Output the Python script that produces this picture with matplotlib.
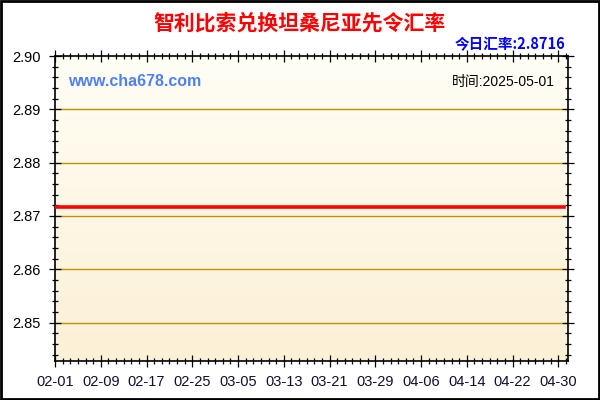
import numpy as np
import pandas as pd
import matplotlib
matplotlib.use("Agg")
import matplotlib.pyplot as plt
from matplotlib.ticker import MultipleLocator, FixedLocator
from matplotlib.patches import Rectangle

plt.rcParams['font.family'] = ['Liberation Sans', 'Noto Sans CJK SC', 'DejaVu Sans']

# data
dates = pd.date_range('2025-02-01', '2025-05-01', freq='D')
rates = [2.8716] * len(dates)
tick_labels = ['02-01', '02-09', '02-17', '02-25', '03-05', '03-13',
               '03-21', '03-29', '04-06', '04-14', '04-22', '04-30']
title = '智利比索兑换坦桑尼亚先令汇率'
today_rate = '今日汇率:2.8716'
time_text = '时间:2025-05-01'
site = 'www.cha678.com'

days = (dates - dates[0]).days.values

fig = plt.figure(figsize=(6, 4), dpi=100)
ax = fig.add_axes([55 / 600, 1 - 361 / 400, 513 / 600, 305 / 400])

# gradient background
grad = np.linspace(0, 1, 256).reshape(-1, 1)
top = np.array([255, 254, 245]) / 255
bot = np.array([252, 240, 214]) / 255
img = top + (bot - top) * grad[:, :, None] * np.ones((1, 1, 3))
ax.imshow(img, extent=[0, 1, 0, 1], transform=ax.transAxes, aspect='auto', zorder=0)

ax.set_xlim(0, 89.7)
ax.set_ylim(2.8428, 2.9)

for y in [2.85, 2.86, 2.87, 2.88, 2.89]:
    ax.axhline(y, color='#c09000', linewidth=1, zorder=1)

ax.plot(days, rates, color='#ff0000', linewidth=2.6, zorder=3)

ax.xaxis.set_major_locator(FixedLocator(np.arange(0, 89, 8)))
ax.xaxis.set_minor_locator(MultipleLocator(8 / 6))
ax.set_xticklabels(tick_labels)
ax.yaxis.set_major_locator(FixedLocator([2.85, 2.86, 2.87, 2.88, 2.89, 2.90]))
ax.yaxis.set_minor_locator(MultipleLocator(0.002))
ax.set_yticklabels(['2.85', '2.86', '2.87', '2.88', '2.89', '2.90'])

ax.tick_params(which='both', direction='inout', top=True, right=True,
               labelsize=10.5, width=0.9, color='black')
ax.tick_params(which='major', length=8, pad=6)
ax.tick_params(which='minor', length=5)
ax.tick_params(axis='x', labelcolor='#101030')
for s in ax.spines.values():
    s.set_linewidth(1.2)

ax.text(0.025, 0.915, site, transform=ax.transAxes, color='#5080f0',
        fontsize=11.5, fontweight='bold', ha='left', va='center', zorder=4)
ax.text(0.975, 0.915, time_text, transform=ax.transAxes, color='black',
        fontsize=10, ha='right', va='center', zorder=4)

fig.text(0.5, 0.942, title, color='#ff0000', fontsize=15, fontweight='bold',
         ha='center', va='center', family=['Noto Sans CJK SC', 'DejaVu Sans'])
fig.text(565 / 600, 1 - 44 / 400, today_rate, color='#0000ff', fontsize=10.5,
         fontweight='bold', ha='right', va='center',
         family=['Noto Sans CJK SC', 'DejaVu Sans'])

fig.patches.append(Rectangle((0.001, 0.002), 0.997, 0.995, transform=fig.transFigure,
                             fill=False, edgecolor='black', linewidth=2))

fig.savefig('out.png', dpi=100)
